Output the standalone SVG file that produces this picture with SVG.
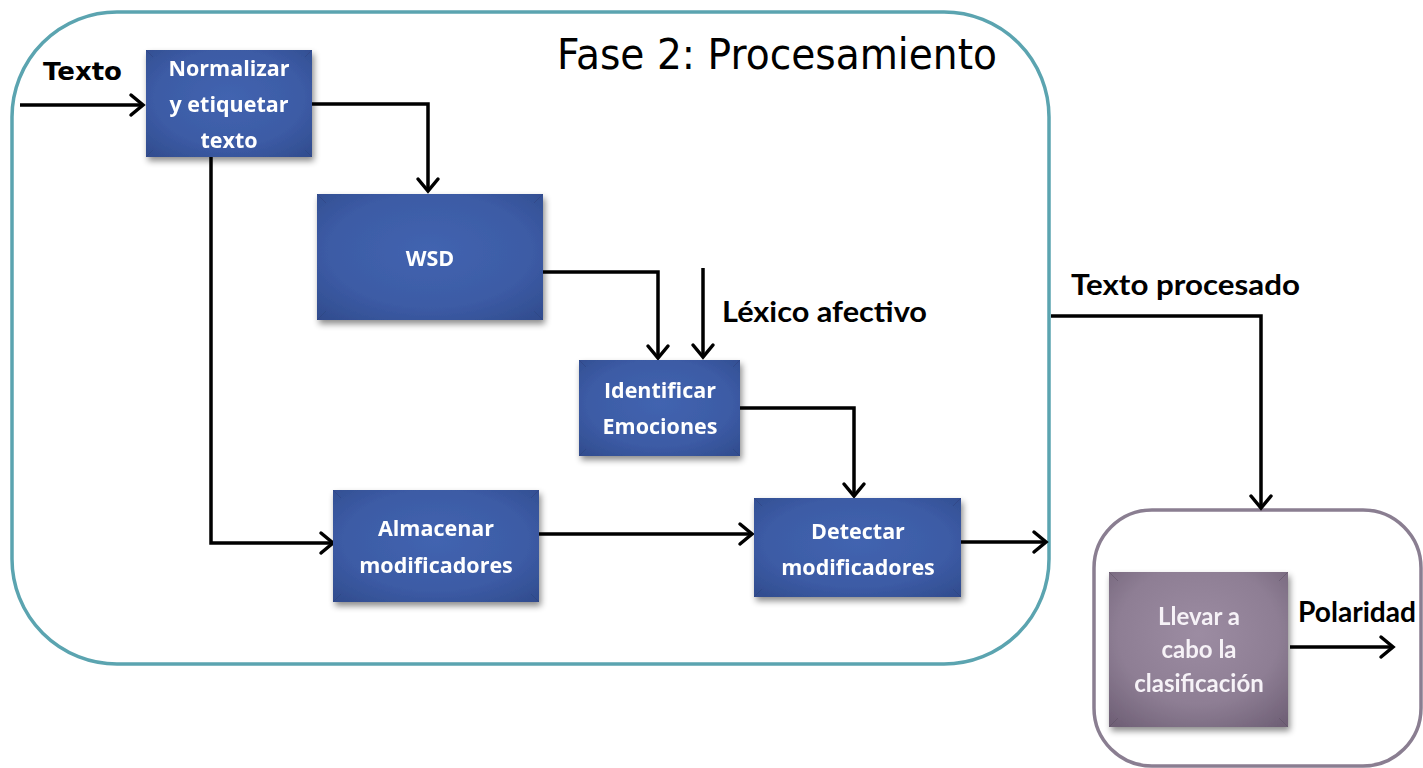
<svg xmlns="http://www.w3.org/2000/svg" width="1423" height="768" viewBox="0 0 1423 768">
<style>
.box{stroke:none}
.bt{font-family:"Open Sans","Liberation Sans",sans-serif;font-weight:bold;font-size:21.5px;fill:#ffffff;text-anchor:middle}
.pt{font-family:"Lato","Liberation Sans",sans-serif;font-weight:bold;font-size:24px;fill:#f6f2f7;text-anchor:middle}
.lbl{font-family:"Lato","Liberation Sans",sans-serif;font-weight:bold;font-size:29px;fill:#000}
.con{fill:none;stroke:#000;stroke-width:3.5;marker-end:url(#arr)}
.bev{fill:none;stroke-width:1}
</style>
<defs>
<radialGradient id="blue" cx="0.5" cy="0.45" r="0.75">
<stop offset="0" stop-color="#4264b0"/>
<stop offset="0.6" stop-color="#3c5ba5"/>
<stop offset="1" stop-color="#304b8c"/>
</radialGradient>
<radialGradient id="purp" cx="0.5" cy="0.4" r="0.75">
<stop offset="0" stop-color="#9c8ca2"/>
<stop offset="0.6" stop-color="#8e7e94"/>
<stop offset="1" stop-color="#6f6076"/>
</radialGradient>
<filter id="sh" x="-10%" y="-10%" width="125%" height="130%">
<feDropShadow dx="2" dy="4" stdDeviation="3" flood-color="#000" flood-opacity="0.45"/>
</filter>
<marker id="arr" viewBox="-14 -12 16 24" refX="0" refY="0" markerWidth="16" markerHeight="24" markerUnits="userSpaceOnUse" orient="auto" overflow="visible">
<path d="M-12,-10 L0,0 L-12,10" fill="none" stroke="#000" stroke-width="3.5" stroke-linecap="round" stroke-linejoin="miter"/>
</marker>
</defs>
<rect width="1423" height="768" fill="#fff"/>

<g id="fase2">
<rect x="12" y="12" width="1037" height="652" rx="105" ry="105" fill="none" stroke="#5ba4b0" stroke-width="3.5"/>
<text x="557" y="69" font-family="'Century Gothic','DejaVu Sans',sans-serif" font-size="43" fill="#000" textLength="440" lengthAdjust="spacingAndGlyphs">Fase 2: Procesamiento</text>
</g>

<g id="clasif">
<rect x="1094" y="510" width="327" height="256" rx="58" ry="58" fill="none" stroke="#8a7e91" stroke-width="3.5"/>
</g>

<g id="connectors">
<path class="con" d="M20,105 H143"/>
<path class="con" d="M312,104 H428 V191"/>
<path class="con" d="M211,157 V543 H333"/>
<path class="con" d="M543,272 H658 V358"/>
<path class="con" d="M703,268 V357"/>
<path class="con" d="M740,408 H854 V496"/>
<path class="con" d="M539,534 H752"/>
<path class="con" d="M961,542 H1046"/>
<path class="con" d="M1051,316 H1261 V508"/>
<path class="con" d="M1290,647 H1393"/>
</g>

<g id="labels">
<text x="43" y="80" font-family="'DejaVu Sans',Verdana,sans-serif" font-weight="bold" font-size="25" fill="#000" textLength="79" lengthAdjust="spacingAndGlyphs">Texto</text>
<text class="lbl" x="722" y="322" textLength="205" lengthAdjust="spacingAndGlyphs">Léxico afectivo</text>
<text class="lbl" x="1071" y="295" textLength="229" lengthAdjust="spacingAndGlyphs">Texto procesado</text>
<text class="lbl" x="1298" y="622" textLength="118" lengthAdjust="spacingAndGlyphs">Polaridad</text>
</g>

<g id="n-normalizar" filter="url(#sh)">
<rect class="box" x="146" y="50" width="166" height="107" fill="url(#blue)"/>
<path class="bev" d="M146,50 L153,57 M312,50 L305,57 M146,157 L153,150 M312,157 L305,150" stroke="#2b427c" stroke-opacity="0.5"/>
<text class="bt" x="229" y="76">Normalizar</text>
<text class="bt" x="229" y="112">y etiquetar</text>
<text class="bt" x="229" y="148">texto</text>
</g>

<g id="n-wsd" filter="url(#sh)">
<rect class="box" x="317" y="194" width="226" height="126" fill="url(#blue)"/>
<path class="bev" d="M317,194 L326,203 M543,194 L534,203 M317,320 L326,311 M543,320 L534,311" stroke="#2b427c" stroke-opacity="0.5"/>
<text class="bt" x="430" y="266">WSD</text>
</g>

<g id="n-identificar" filter="url(#sh)">
<rect class="box" x="579" y="360" width="161" height="96" fill="url(#blue)"/>
<path class="bev" d="M579,360 L586,367 M740,360 L733,367 M579,456 L586,449 M740,456 L733,449" stroke="#2b427c" stroke-opacity="0.5"/>
<text class="bt" x="660" y="398">Identificar</text>
<text class="bt" x="660" y="434">Emociones</text>
</g>

<g id="n-almacenar" filter="url(#sh)">
<rect class="box" x="333" y="490" width="206" height="112" fill="url(#blue)"/>
<path class="bev" d="M333,490 L341,498 M539,490 L531,498 M333,602 L341,594 M539,602 L531,594" stroke="#2b427c" stroke-opacity="0.5"/>
<text class="bt" x="436" y="536">Almacenar</text>
<text class="bt" x="436" y="573">modificadores</text>
</g>

<g id="n-detectar" filter="url(#sh)">
<rect class="box" x="754" y="498" width="207" height="99" fill="url(#blue)"/>
<path class="bev" d="M754,498 L762,506 M961,498 L953,506 M754,597 L762,589 M961,597 L953,589" stroke="#2b427c" stroke-opacity="0.5"/>
<text class="bt" x="858" y="539">Detectar</text>
<text class="bt" x="858" y="575">modificadores</text>
</g>

<g id="n-llevar" filter="url(#sh)">
<rect class="box" x="1109" y="572" width="179" height="155" fill="url(#purp)"/>
<path class="bev" d="M1109,572 L1118,581 M1288,572 L1279,581 M1109,727 L1118,718 M1288,727 L1279,718" stroke="#5c4f62" stroke-opacity="0.5"/>
<text class="pt" x="1199" y="625">Llevar a</text>
<text class="pt" x="1199" y="658">cabo la</text>
<text class="pt" x="1199" y="692">clasificación</text>
</g>
</svg>
